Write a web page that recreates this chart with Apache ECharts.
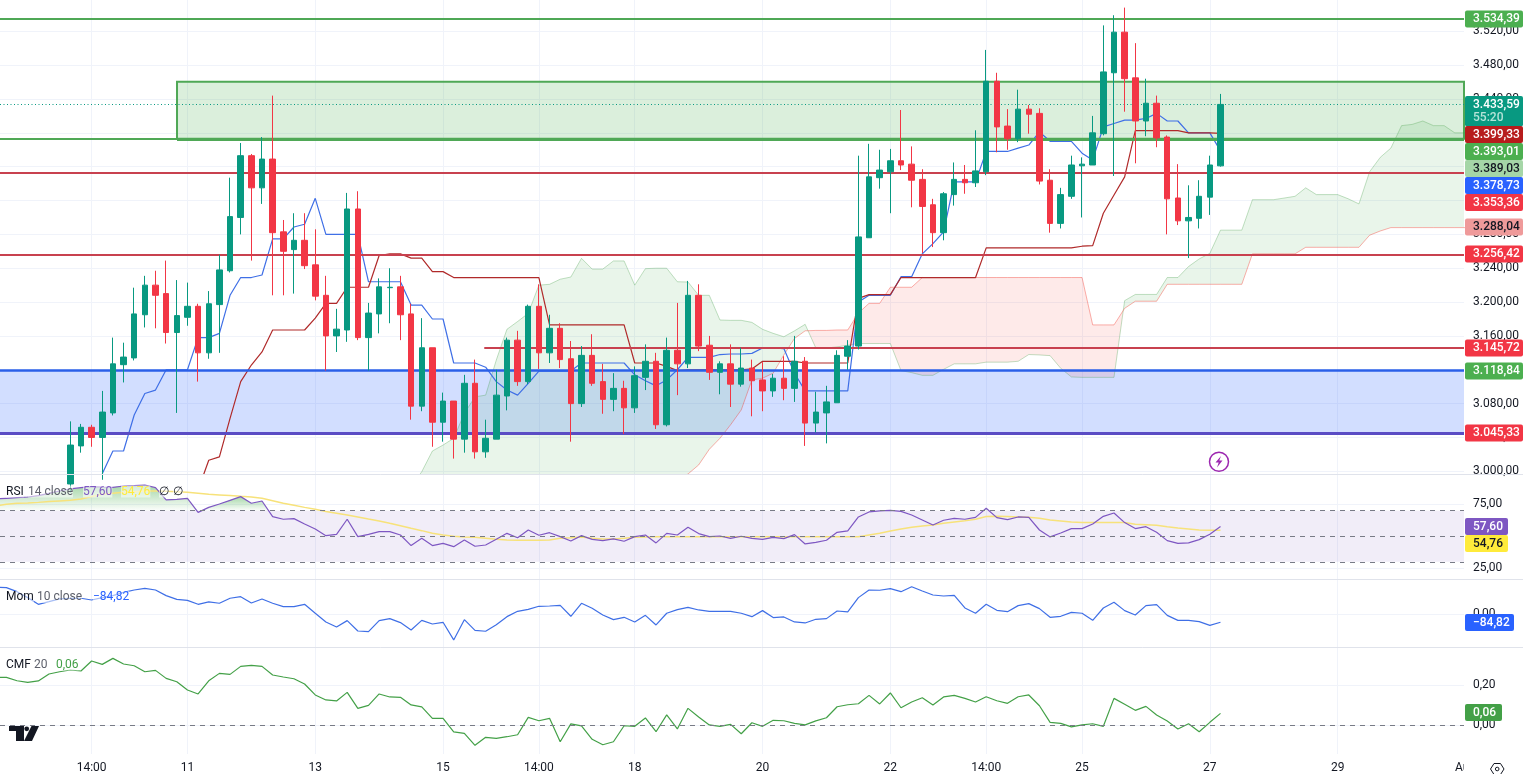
<!DOCTYPE html>
<html>
<head>
<meta charset="utf-8">
<script src="https://cdn.jsdelivr.net/npm/echarts@6/dist/echarts.min.js"></script>
<style>html,body{margin:0;padding:0;background:#fff;overflow:hidden}#c{width:1523px;height:774px}</style>
</head>
<body>
<div id="c"></div>
<script>
// ---------- data ----------
const opens = [
2985,3030,3052,3040,3069,3126,3134,3185,3220,3210,
3164,3182,3195,3140,3197,3237,3300,3373,3335,3369,
3283,3262,3273,3244,3208,3160,3167,3310,3158,3186,
3217,3218,3186,3077,3146,3058,3083,3038,3104,3023,
3038,3089,3155,3106,3195,3140,3169,3133,3080,3137,
3106,3085,3098,3075,3111,3130,3055,3143,3127,3208,
3149,3117,3127,3103,3122,3108,3095,3110,3098,3130,
3057,3069,3081,3136,3148,3276,3347,3354,3367,3363,
3345,3315,3282,3327,3345,3341,3354,3461,3408,3393,
3428,3423,3344,3293,3325,3361,3362,3399,3471,3519,
3465,3414,3435,3395,3323,3296,3299,3324,3361];
const closes = [
3031,3052,3040,3070,3127,3135,3186,3220,3208,3164,
3184,3195,3140,3198,3238,3301,3373,3335,3369,3282,
3260,3273,3243,3207,3160,3168,3310,3158,3187,3218,
3217.5,3185,3077,3146,3058,3083,3038,3104,3023,3039,
3090,3155,3106,3195,3140,3169,3132,3080,3137,3104,
3085,3098,3075,3113,3130,3055,3143,3127,3208,3148,
3117,3127,3103,3122,3107,3095,3110,3098,3130,3057,
3070,3082,3137,3148,3277,3348,3356,3367,3362,3344,
3313,3282,3328,3345,3341,3355,3461,3407,3393,3428,
3422,3343,3293,3327,3362,3363,3400,3472,3519,3464,
3414,3435,3394,3322,3296,3300,3325,3362,3433.59];
const highs = [
3059,3056,3055,3095,3158,3152,3217,3231,3237,3249,
3226,3223,3198,3213,3256,3347,3388,3375,3395,3444,
3297,3305,3305,3286,3231,3192,3329,3331,3199,3228,
3240,3231,3198,3181,3146,3093,3083,3114,3132,3061,
3120,3158,3166,3197,3221,3185,3175,3154,3148,3162,
3127,3116,3107,3124,3150,3140,3158,3199,3225,3221,
3160,3130,3150,3146,3132,3129,3115,3136,3160,3135,
3094,3101,3143,3155,3373,3387,3380,3381,3427,3384,
3357,3322,3330,3365,3362,3403,3498,3471,3428,3451,
3433,3429,3357,3335,3373,3371,3420,3527,3539,3548,
3506,3464,3444,3397,3363,3338,3344,3373,3446];
const lows = [
2975,3022,3029,2990,3066,3105,3131,3170,3169,3151,
3069,3172,3106,3133,3140,3235,3280,3249,3316,3208,
3208,3210,3239,3202,3119,3141,3153,3155,3119,3163,
3175,3155,3061,3071,3029,3035,3015,3022,3015,3016,
3038,3072,3101,3103,3121,3128,3122,3035,3076,3101,
3068,3071,3044,3069,3096,3050,3053,3090,3122,3142,
3108,3091,3076,3100,3065,3071,3088,3084,3082,3030,
3046,3033,3081,3120,3144,3276,3334,3305,3356,3312,
3258,3265,3273,3314,3328,3336,3350,3377,3380,3389,
3399,3339,3282,3287,3322,3300,3362,3397,3349,3425,
3364,3396,3383,3280,3291,3252,3287,3303,3360];

const tenkanStart = 3;
const tenkan = [
2997,3024,3024,3066.5,3092,3096,3120,3120,3120,3158,
3158,3163,3208,3229,3229,3232,3274.6,3274.6,3288.7,3292,
3322.6,3280,3280,3280,3280,3224,3224,3224,3224,3196.5,
3196.5,3180,3180,3128,3128,3128,3123,3106,3096,3090,
3104,3118.5,3118.5,3118.5,3118.5,3128,3128,3128,3128,3128,
3114,3107,3101,3108,3120,3134.7,3134.7,3134.7,3138,3138.6,
3138.6,3139.4,3145.7,3145.7,3145,3115.8,3095,3095,3095,3095,
3095,3200,3208,3208,3208,3230,3230,3257,3269,3283,
3342,3342,3342,3378,3378,3378,3382,3385.6,3401,3390,
3390,3390,3376,3368,3407,3411,3415,3415,3417,3423,
3414,3414,3400,3400,3400,3378.73];
const kijunStart = 12;
const kijun = [
2978,3013,3017,3062.6,3106,3125.6,3141,3167,3167,3167,
3167,3181,3198.5,3198.5,3217.5,3217.5,3217.5,3255,3257,3257,
3252,3252,3236,3236,3229,3229,3229,3229,3229,3229,
3229,3229,3229,3173,3173,3173,3173,3173,3173,3173,
3173,3128,3128,3128,3124,3119,3120,3120,3120,3120,
3120,3120,3121,3130,3130,3130,3130,3128,3128,3128,
3128,3128,3204.4,3208.8,3208.8,3208.8,3229,3229,3229,3229,
3229,3229,3229,3229,3264,3264,3264,3264,3264,3264,
3264,3264,3264,3266,3266.7,3305,3326.5,3348,3402.6,3402.6,
3402.6,3402.6,3402.6,3400,3400,3400,3399.33];
const spanStart = 32;
const spanA = [
2982,2999.5,3024,3031,3039,3068.5,3088,3090,3131.5,3167.8,
3177,3186.7,3220,3221,3227,3229.6,3251.7,3239,3239,3248.6,
3248.6,3220,3239.5,3240,3240,3224,3223.7,3208,3208,3178.8,
3178.4,3178.4,3176,3167.8,3163,3159,3166,3173.7,3145.7,3145.7,
3147,3149,3151,3151,3151,3151,3119,3116.6,3113.4,3113.4,
3120.5,3127,3127,3127,3129,3129,3129,3130,3138,3137.5,
3136.7,3121.7,3111.5,3111,3111,3111,3111,3201.7,3209,3209,
3209,3229,3229,3242,3251,3257.6,3285,3285,3285,3321,
3321,3321,3323,3325,3335,3327,3327,3327,3322,3316,
3354,3371,3382,3408.5,3410,3414,3408.5,3408.5,3400,3400];
const spanB = [
2950,2950,2950,2950,2950,2950,2955,2955,2955,2955,
2960,2960,2960,2960,2965,2965,2965,2970,2970,2970,
2975,2975,2980,2980,2985,2990,2996.8,3007.5,3026,3039,
3055,3072.5,3108,3110,3116,3137.5,3157,3166,3166.5,3166.5,
3167,3167,3187,3198.5,3198.5,3217.5,3217.5,3217.5,3229,3229,
3229,3229,3229,3229,3229,3229,3229,3229,3229,3229,
3229,3229,3229,3229,3173,3173,3173,3192.6,3201,3201,
3201,3221,3221,3221,3221,3221,3221,3221,3221,3257,
3257,3257,3257,3257,3264.7,3264.7,3264.7,3264.7,3264.7,3264.7,
3279,3284,3288,3288,3288,3288,3288,3288,3288,3288];

const indicatorStart = -7;
const rsi = [
79.2,79.7,80.2,80.7,81.8,83.6,85.4,87,88,88.8,
88.5,88.3,89.3,89.6,90.1,88,78.4,78.9,79.7,
68.7,72.6,75.2,78.1,81,75.8,77.6,65.3,63.3,63.8,
59.6,55.7,50.5,51.5,63.3,49.7,51.5,53.6,53.6,51,
42.7,48.4,42.7,44.5,41.9,47.1,42.2,43.2,47.6,
52.3,48.9,54.9,50.8,52.8,49.7,46.3,50.5,47.6,46.6,
47.9,46.1,49.7,51,44.8,52.3,51,57,52.1,49.7,
50.2,48.4,50,48.4,47.6,49.2,48.2,51.3,44,45.3,
46.9,53.1,54.2,65.1,69,69.8,70.3,69.5,66.6,62.7,
58.8,62.5,64,63.3,64.8,71.9,64.6,
63,65.1,64.8,54.9,49.5,52.6,56,56,59.6,65.6,
68.2,60.7,56,57.5,53.1,46.6,44.5,44.8,47.4,51.6,57.6];
const rsiMa = [
73.9,75,75.8,76,76.5,77.1,77.6,78.1,79.2,81,
82.8,83.6,84.4,84.9,85.4,85.4,85.1,84.9,84.4,
83.6,82.8,82.3,81.8,81.2,80.7,79.7,77.8,75.8,74.2,
72.6,71.1,69.3,68,66.7,65.1,63.5,62,60.1,58.3,
56.2,54.4,52.3,51,50,49.5,49.2,48.4,47.6,
47.1,46.9,46.9,46.9,47.1,48.4,48.9,49.5,48.4,47.9,
47.9,48.4,49.2,49.5,49.7,49.7,49.7,49.7,49.7,49.7,
49.7,49.7,49.7,49.7,49.7,49.7,49.7,49.7,49.7,49.7,
49.7,49.7,49.7,49.7,51,52.3,54.2,55.7,57,58,
58.8,60.1,61.2,62.2,63.3,65.4,65.6,
65.4,65.1,64.8,64,62.7,62,61.2,60.7,60.7,60.7,
60.7,60.7,59.4,59.1,58.6,57.5,56.5,55.7,54.9,54.7,54.76];
const momentum = [
286,283,240,177,106,134,163,170,170,152,
177,198,233,258,276,258,198,159,148,
106,131,117,170,187,120,163,117,81,81,
106,11,-81,-134,-67,-177,-184,-67,-46,-88,
-166,-64,-103,-85,-272,-57,-170,-180,-110,
-25,32,53,85,88,95,-21,117,64,-7,
-57,-32,-81,-11,-113,11,49,74,46,32,
32,32,11,-25,39,-35,-28,-81,-92,-53,
-46,35,25,177,258,255,272,240,293,247,
205,194,201,67,11,106,42,
28,92,113,60,-32,-21,21,11,-64,67,
127,39,-7,92,103,-11,-64,-64,-78,-117,-84.82];
const cmf = [
.24,.24,.223,.215,.222,.257,.268,.277,.272,.322,
.305,.335,.307,.298,.268,.275,.235,.218,.177,
.157,.223,.26,.255,.295,.3,.295,.252,.242,.233,
.207,.152,.127,.122,.165,.085,.1,.157,.142,.14,
.102,.092,.035,.035,-.033,-.04,-.1,-.06,-.065,
-.057,-.047,.04,.023,.035,-.082,.007,-.003,-.07,-.097,
-.082,-.002,-.005,.037,-.032,.052,-.018,.085,.042,.002,
-.005,.005,-.042,.013,-.005,.025,.023,.01,.002,.022,
.038,.093,.103,.108,.15,.107,.162,.088,.117,.138,
.102,.142,.15,.135,.117,.143,.123,
.11,.143,.152,.098,.015,.01,-.008,.002,.008,-.005,
.135,.105,.075,.095,.052,.022,-.018,.008,-.032,.015,.06];

const timeTickIndex = [2,11,23,35,44,53,65,77,86,95,107,119];
const timeTickLabels = ['14:00','11','13','15','14:00','18','20','22','14:00','25','27','29'];
const priceTicks = [3000,3040,3080,3120,3160,3200,3240,3280,3320,3360,3400,3440,3480,3520];
const rsiTicks = [25,75];
const momTicks = [0];
const cmfTicks = [0,0.2];
const levelsRed = [3353.36,3256.42];
const levelMidRed = 3145.72;
const levelTopGreen = 3534.39;
const supplyZone = [3393.01,3460.4];
const demandZone = [3045.33,3118.84];
const lastPrice = 3433.59;

// ---------- layout ----------
const xMin = -6.601, xMax = 130.864;
const supplyStartIdx = 10.02, midRedStartIdx = 38.87;
const grids = [
  {left:0,width:1464,top:0,height:474,outerBoundsMode:'none'},
  {left:0,width:1464,top:475,height:104,outerBoundsMode:'none'},
  {left:0,width:1464,top:580,height:67,outerBoundsMode:'none'},
  {left:0,width:1464,top:648,height:106,outerBoundsMode:'none'}
];
const fmt = v => {
  const s = v.toFixed(2).split('.');
  return s[0].replace(/\B(?=(\d{3})+$)/g,'.') + ',' + s[1];
};
const GRID = '#f0f3fa';
const FONT = 'Roboto';
const xAxes = grids.map((g,i)=>({
  type:'value',gridIndex:i,min:xMin,max:xMax,
  axisLine:{show:false},
  axisTick:{show:false,customValues:timeTickIndex},
  splitLine:{show:true,lineStyle:{color:GRID,width:1}},
  axisLabel:{show:i===3,customValues:timeTickIndex,margin:8,color:'#131722',fontFamily:FONT,fontSize:12,
    hideOverlap:false,formatter:v=>timeTickLabels[timeTickIndex.indexOf(v)]||''}
}));
const yAxis = (i,min,max,ticks)=>({
  type:'value',gridIndex:i,position:'right',min,max,scale:true,
  axisLine:{show:false},
  axisTick:{show:false,customValues:ticks},
  splitLine:{show:true,lineStyle:{color:GRID,width:1}},
  axisLabel:{customValues:ticks,margin:9,color:'#131722',fontFamily:FONT,fontSize:12,hideOverlap:false,formatter:v=>fmt(v)}
});
const yAxes = [
  yAxis(0,2996.8,3557,priceTicks),
  yAxis(1,16.6,97.9,rsiTicks),
  yAxis(2,-347,364,momTicks),
  yAxis(3,-0.1435,0.387,cmfTicks)
];

const seriesXY = (arr,start)=>arr.map((v,k)=>[k+start,v]);
const hLine = (y,color,width,from,type)=>[
  {coord:[from===undefined?xMin:from,y],lineStyle:{color,width,type:type||'solid',opacity:1}},
  {coord:[xMax,y]}];
const markBase = {silent:true,symbol:['none','none'],label:{show:false},animation:false};
const line = (name,arr,start,color,gi,z,width,op)=>({
  name,type:'line',xAxisIndex:gi,yAxisIndex:gi,data:seriesXY(arr,start),showSymbol:false,symbol:'none',
  lineStyle:{color,width:width||1,opacity:op===undefined?1:op},z,silent:true,animation:false,emphasis:{disabled:true}
});

// polygons between two lines, split where they cross
function between(xs,a,b){
  const out=[];let top=[],bot=[],sign=0;
  const flush=()=>{if(top.length>1)out.push({up:sign>0,pts:top.concat(bot.slice().reverse())});top=[];bot=[];};
  for(let k=0;k<xs.length;k++){
    const s=a[k]>=b[k]?1:-1;
    if(sign&&s!==sign){
      const d0=a[k-1]-b[k-1],d1=a[k]-b[k],t=d0/(d0-d1);
      const cx=xs[k-1]+t*(xs[k]-xs[k-1]),cy=a[k-1]+t*(a[k]-a[k-1]);
      top.push([cx,cy]);bot.push([cx,cy]);flush();top.push([cx,cy]);bot.push([cx,cy]);
    }
    sign=s;top.push([xs[k],a[k]]);bot.push([xs[k],b[k]]);
  }
  flush();return out;
}
const fillSeries=(name,xs,a,b,gi,z,fillFn)=>({
  name,type:'custom',xAxisIndex:gi,yAxisIndex:gi,clip:true,silent:true,z,animation:false,
  data:[[xs[0],a[0]]],encode:{x:0,y:1},
  renderItem:(p,api)=>({type:'group',children:between(xs,a,b).map(r=>{
    const f=fillFn(r);
    return f?{type:'polygon',shape:{points:r.pts.map(q=>api.coord(q))},style:{fill:f}}:null;
  }).filter(Boolean)})
});

const spanX = spanA.map((_,k)=>k+spanStart);
const rsiX = rsi.map((_,k)=>k+indicatorStart);
const seventy = rsi.map(()=>70);

const RED='#c8414f',GREEN='#4fa856',BLUE='#2a5fe8';
const series = [
  {name:'levels',type:'line',xAxisIndex:0,yAxisIndex:0,data:[],z:1,silent:true,animation:false,
    markArea:{silent:true,animation:false,data:[
      [{coord:[xMin,demandZone[1]],itemStyle:{color:'rgba(41,98,255,0.21)',borderWidth:0}},{coord:[xMax,demandZone[0]]}],
      [{coord:[supplyStartIdx,supplyZone[1]],itemStyle:{color:'rgba(76,175,80,0.2)',borderColor:GREEN,borderWidth:2}},{coord:[xMax+2,supplyZone[0]]}]
    ]},
    markLine:Object.assign({},markBase,{data:[
      hLine(levelTopGreen,GREEN,2),
      hLine(supplyZone[0],GREEN,2),
      hLine(supplyZone[0],GREEN,3,supplyStartIdx),
      hLine(levelsRed[0],RED,2),
      hLine(levelsRed[1],RED,2),
      hLine(levelMidRed,RED,2,midRedStartIdx),
      hLine(demandZone[1],BLUE,2.5),
      hLine(demandZone[0],'#5a4cc4',3),
      hLine(lastPrice,'#089981',1,xMin,[1,2.5])
    ]})
  },
  fillSeries('cloud',spanX,spanA,spanB,0,2,r=>r.up?'rgba(76,175,80,0.12)':'rgba(244,67,54,0.11)'),
  line('spanA',spanA,spanStart,'rgba(67,160,71,0.32)',0,3),
  line('spanB',spanB,spanStart,'rgba(244,67,54,0.42)',0,3),
  line('tenkan',tenkan,tenkanStart,'#3f6fe6',0,4,1.2),
  line('kijun',kijun,kijunStart,'#b02a2a',0,4,1.2),
  {name:'price',type:'candlestick',xAxisIndex:0,yAxisIndex:0,z:6,silent:true,animation:false,barWidth:6,
    data:opens.map((o,k)=>[k,o,closes[k],lows[k],highs[k]]),
    itemStyle:{color:'#089981',color0:'#f23645',borderColor:'#089981',borderColor0:'#f23645',borderColorDoji:'#089981',borderWidth:1}
  },
  // RSI pane
  {name:'rsiBand',type:'line',xAxisIndex:1,yAxisIndex:1,data:[],z:1,silent:true,animation:false,
    markArea:{silent:true,animation:false,data:[[{coord:[xMin,70],itemStyle:{color:'rgba(126,87,194,0.11)'}},{coord:[xMax,30]}]]},
    markLine:Object.assign({},markBase,{data:[
      hLine(70,'#787b86',1,xMin,[5,5]),hLine(50,'#787b86',1,xMin,[5,5]),hLine(30,'#787b86',1,xMin,[5,5])]})
  },
  fillSeries('rsiOver',rsiX,rsi,seventy,1,2,r=>r.up?new echarts.graphic.LinearGradient(0,0,0,1,[
    {offset:0,color:'rgba(76,175,80,0.5)'},{offset:1,color:'rgba(76,175,80,0.02)'}]):null),
  line('rsiMa',rsiMa,indicatorStart,'#f7e27a',1,3,1.5),
  line('rsi',rsi,indicatorStart,'#7e57c2',1,4,1.2),
  // momentum
  line('mom',momentum,indicatorStart,'#3f6fe6',2,4,1.2),
  // CMF
  {name:'cmfZero',type:'line',xAxisIndex:3,yAxisIndex:3,data:[],z:1,silent:true,animation:false,
    markLine:Object.assign({},markBase,{data:[hLine(0,'#787b86',1,xMin,[5,5])]})},
  line('cmf',cmf,indicatorStart,'#43a047',3,4,1.2)
];

// ---------- price tags, pane legends, icons ----------
const Z=60;
const tag=(text,cy,bg,fg,w,h,sub)=>{
  const H=h||17,W=w||58;
  const kids=[
    {type:'rect',z:Z,shape:{x:1465,y:cy-8.5,width:W,height:H,r:2},style:{fill:bg}},
    {type:'text',z:Z+1,style:{x:1473,y:cy,text,fill:fg,font:'500 12px '+FONT,verticalAlign:'middle',textAlign:'left'}}
  ];
  if(sub)kids.push({type:'text',z:Z+1,style:{x:1473,y:cy+13.5,text:sub,fill:'#b5e3d8',font:'500 12px '+FONT,verticalAlign:'middle'}});
  return {type:'group',silent:true,children:kids};
};
const leg=(x,y,text,fill)=>({type:'text',z:40,silent:true,style:{x,y,text,fill,font:'12px '+FONT,verticalAlign:'middle',backgroundColor:'rgba(255,255,255,0.55)'}});
const sep=y=>({type:'line',z:30,silent:true,shape:{x1:0,y1:y,x2:1523,y2:y},style:{stroke:'#e0e3eb',lineWidth:1}});
const graphic=[
  sep(474.5),sep(579.5),sep(647.5),
  tag('3.534,39',19,'#4caf50','#fff'),
  tag('3.433,59',104.5,'#089981','#fff',58,30.5,'55:20'),
  tag('3.399,33',134.5,'#b71c1c','#fff'),
  tag('3.393,01',151.5,'#4caf50','#fff'),
  tag('3.389,03',168.5,'#a5d6a7','#131722'),
  tag('3.378,73',185.5,'#2962ff','#fff'),
  tag('3.353,36',202.5,'#f23645','#fff'),
  tag('3.288,04',227,'#ef9a9a','#131722'),
  tag('3.256,42',254,'#f23645','#fff'),
  tag('3.145,72',348,'#f23645','#fff'),
  tag('3.118,84',371,'#4caf50','#fff'),
  tag('3.045,33',433,'#f23645','#fff'),
  tag('57,60',526.5,'#7e57c2','#fff',43),
  tag('54,76',543.5,'#ffeb3b','#131722',43),
  tag('\u221284,82',622.5,'#2962ff','#fff',49),
  tag('0,06',712.5,'#43a047','#fff',37),
  leg(6,491.5,'RSI','#131722'),leg(28,491.5,'14 close','#5d606b'),leg(83,491.5,'57,60','#7e57c2'),leg(121,491.5,'54,76','#ffeb3b'),
  leg(159,491.5,'\u2205','#131722'),leg(173,491.5,'\u2205','#131722'),
  leg(6,597,'Mom','#131722'),leg(37,597,'10 close','#5d606b'),leg(93,597,'\u221284,82','#2962ff'),
  leg(6,664.5,'CMF','#131722'),leg(34,664.5,'20','#5d606b'),leg(56,664.5,'0,06','#43a047'),
  {type:'text',z:40,silent:true,style:{x:1455,y:768,text:'Au',fill:'#131722',font:'12px '+FONT,verticalAlign:'middle'}},
  {type:'rect',z:41,silent:true,shape:{x:1464,y:758,width:22,height:16},style:{fill:'#fff'}},
  // logo
  {type:'polygon',z:40,silent:true,shape:{points:[[9,726],[24,726],[24,741],[16,741],[16,731],[9,731]]},style:{fill:'#131722'}},
  {type:'circle',z:40,silent:true,shape:{cx:26.7,cy:728.8,r:2.4},style:{fill:'#131722'}},
  {type:'polygon',z:40,silent:true,shape:{points:[[31.5,726],[39,726],[32,741],[24,741]]},style:{fill:'#131722'}},
  // alert icon
  {type:'circle',z:40,silent:true,shape:{cx:1219,cy:461.7,r:9.5},style:{fill:'#fff',stroke:'#9c27b0',lineWidth:1.5}},
  {type:'polygon',z:41,silent:true,shape:{points:[[1221,456],[1215.5,462.5],[1218.7,462.5],[1217,467.5],[1222.5,460.5],[1219.3,460.5]]},style:{fill:'#9c27b0'}},
  // settings icon
  {type:'polygon',z:40,silent:true,shape:{points:[[1490.5,769],[1494,763.5],[1500.5,763.5],[1504,769],[1500.5,774.5],[1494,774.5]]},style:{fill:'#fff',stroke:'#131722',lineWidth:1}},
  {type:'circle',z:41,silent:true,shape:{cx:1497.2,cy:769,r:1.8},style:{fill:'#fff',stroke:'#131722',lineWidth:1}}
];

const chart=echarts.init(document.getElementById('c'),null,{renderer:'canvas'});
chart.setOption({animation:false,backgroundColor:'#fff',grid:grids,xAxis:xAxes,yAxis:yAxes,series,graphic:{elements:graphic},tooltip:{show:false}});
</script>
</body>
</html>
